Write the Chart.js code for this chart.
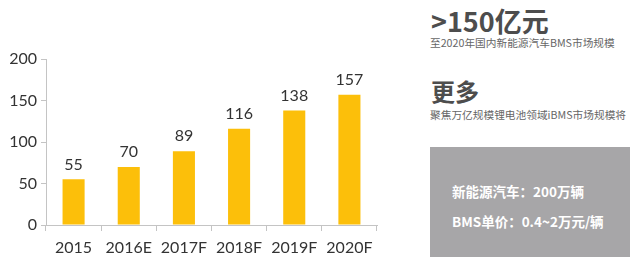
<!DOCTYPE html>
<html>
<head>
<meta charset="utf-8">
<script src="https://cdn.jsdelivr.net/npm/chart.js@4.4.1/dist/chart.umd.min.js"></script>
<style>
  html, body { margin: 0; padding: 0; background: #fff; }
  body { width: 640px; height: 270px; position: relative; overflow: hidden; font-family: "Noto Sans CJK SC", sans-serif; }
  #chartBox { position: absolute; left: 0; top: 0; width: 400px; height: 270px; }
  .big { position: absolute; left: 431px; font-weight: bold; color: #4d4d4d; line-height: 1; }
  .small { position: absolute; left: 430px; font-size: 10.7px; color: #666; line-height: 1; white-space: nowrap; }
  #box { position: absolute; left: 430px; top: 147px; width: 200px; height: 110px; background: #a7a6a8; }
  .boxLine { position: absolute; left: 22px; color: #fff; font-weight: bold; font-size: 13.5px; line-height: 1; white-space: nowrap; }
</style>
</head>
<body>
<div id="chartBox"><canvas id="chart-bms"></canvas></div>

<div class="big" style="top:7px;font-size:27px;">&gt;150亿元</div>
<div class="small" style="top:38px;">至2020年国内新能源汽车BMS市场规模</div>
<div class="big" style="top:79px;font-size:24px;">更多</div>
<div class="small" style="top:110px;">聚焦万亿规模锂电池领域iBMS市场规模将</div>
<div id="box">
  <div class="boxLine" style="top:38px;">新能源汽车：200万辆</div>
  <div class="boxLine" style="top:68px;">BMS单价：0.4~2万元/辆</div>
</div>

<script>
// data
const tahun = ["2015", "2016E", "2017F", "2018F", "2019F", "2020F"];
const nilaiBms = [55, 70, 89, 116, 138, 157];
const tickY = [0, 50, 100, 150, 200];

// label angka di atas bar
const labelAtasBar = {
    id: "labelAtasBar",
    afterDatasetsDraw(chart) {
        const ctx = chart.ctx;
        const meta = chart.getDatasetMeta(0);
        ctx.save();
        ctx.font = "16px Lato";
        ctx.fillStyle = "#333";
        ctx.textAlign = "center";
        ctx.textBaseline = "middle";
        meta.data.forEach((bar, i) => {
            ctx.fillText(nilaiBms[i], bar.x, bar.y - 15);
        });
        ctx.restore();
    }
};

const ctxBms = document.getElementById("chart-bms");

new Chart(ctxBms, {
    type: "bar",
    data: {
        labels: tahun,
        datasets: [
            {
                label: "BMS",
                data: nilaiBms,
                backgroundColor: "#FCBF0A",
                barPercentage: 0.4,
                categoryPercentage: 1,
            },
        ],
    },
    options: {
        responsive: true,
        maintainAspectRatio: false,
        animation: false,
        layout: {
            padding: { left: 0, right: 23, top: 59, bottom: 0 },
        },
        plugins: {
            legend: { display: false },
            tooltip: { enabled: false },
        },
        scales: {
            x: {
                grid: {
                    display: true,
                    drawOnChartArea: false,
                    offset: true,
                    tickLength: 6,
                    color: "#c4c4c4",
                },
                border: { color: "#c4c4c4" },
                ticks: {
                    font: { family: "Lato", size: 16 },
                    color: "#333",
                    padding: 7,
                },
                afterFit(scale) { scale.height = 45; },
            },
            y: {
                min: 0,
                max: 200,
                afterBuildTicks(scale) {
                    scale.ticks = tickY.map(v => ({ value: v }));
                },
                grid: {
                    display: true,
                    drawOnChartArea: false,
                    tickLength: 5,
                    color: "#c4c4c4",
                },
                border: { color: "#c4c4c4" },
                ticks: {
                    font: { family: "Lato", size: 16 },
                    color: "#333",
                    padding: 4,
                },
                afterFit(scale) { scale.width = 46; },
            },
        },
    },
    plugins: [labelAtasBar],
});
</script>
</body>
</html>
